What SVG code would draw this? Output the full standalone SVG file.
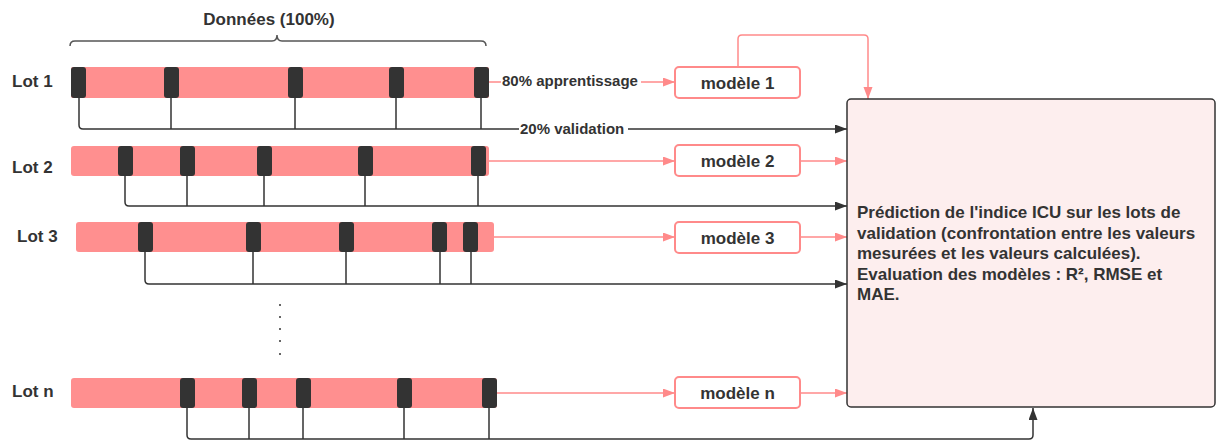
<svg xmlns="http://www.w3.org/2000/svg" width="1217" height="441" viewBox="0 0 1217 441">
<style>
text{font-family:"Liberation Sans",Arial,sans-serif;font-weight:bold;fill:#333}
.lbl{font-size:17px}
.small{font-size:15px}
.bar{fill:#ff8f8f}
.blk{fill:#333}
.val{fill:none;stroke:#333;stroke-width:1.5}
.pk{fill:none;stroke:#ff8a8a;stroke-width:1.5}
.model{fill:#fff;stroke:#ff8a8a;stroke-width:2}
</style>
<defs>
<marker id="ab" markerUnits="userSpaceOnUse" markerWidth="13" markerHeight="10" refX="12" refY="4.5" orient="auto"><path d="M0,0 L12,4.5 L0,9 z" fill="#333"/></marker>
<marker id="ap" markerUnits="userSpaceOnUse" markerWidth="13" markerHeight="10" refX="12" refY="4.5" orient="auto"><path d="M0,0 L12,4.5 L0,9 z" fill="#ff8a8a"/></marker>
</defs>
<rect width="1217" height="441" fill="#fff"/>

<g id="brace">
<path d="M70,46 Q70,41 75,41 H272 Q277,41 277,35 Q277,41 282,41 H481 Q486,41 486,46" fill="none" stroke="#555" stroke-width="1.5"/>
<text class="lbl" x="269" y="25" text-anchor="middle">Données (100%)</text>
</g>

<g id="connectors">
<!-- validation lines -->
<path class="val" d="M79,98 V125 Q79,129 83,129 H847" marker-end="url(#ab)"/>
<path class="val" d="M171,98 V129 M295,98 V129 M396,98 V129 M481,98 V129"/>
<path class="val" d="M125,176 V202 Q125,206 129,206 H847" marker-end="url(#ab)"/>
<path class="val" d="M187,176 V206 M264,176 V206 M365,176 V206 M478,176 V206"/>
<path class="val" d="M145,252 V280 Q145,284 149,284 H847" marker-end="url(#ab)"/>
<path class="val" d="M253,252 V284 M346,252 V284 M440,252 V284 M471,252 V284"/>
<path class="val" d="M187,408 V435 Q187,439 191,439 H1029 Q1033,439 1033,435 V408" marker-end="url(#ab)"/>
<path class="val" d="M249,408 V439 M303,408 V439 M404,408 V439 M489,408 V439"/>
<!-- training lines -->
<path class="pk" d="M489,82 H675" marker-end="url(#ap)"/>
<path class="pk" d="M489,161 H675" marker-end="url(#ap)"/>
<path class="pk" d="M494,237 H675" marker-end="url(#ap)"/>
<path class="pk" d="M497,393 H675" marker-end="url(#ap)"/>
<path class="pk" d="M738,67 V39 Q738,35 742,35 H864 Q868,35 868,39 V99" marker-end="url(#ap)"/>
<path class="pk" d="M800,161 H847" marker-end="url(#ap)"/>
<path class="pk" d="M800,237 H847" marker-end="url(#ap)"/>
<path class="pk" d="M800,393 H847" marker-end="url(#ap)"/>
<rect x="501" y="72" width="140" height="18" fill="#fff"/>
<text class="small" x="502" y="86">80% apprentissage</text>
<rect x="519" y="120" width="109" height="18" fill="#fff"/>
<text class="small" x="520" y="134">20% validation</text>
</g>

<g id="lot1">
<text class="lbl" x="12" y="87">Lot 1</text>
<rect class="bar" x="71" y="67" width="418" height="31" rx="2"/>
<rect class="blk" x="71" y="67" width="15" height="31" rx="3"/>
<rect class="blk" x="164" y="67" width="15" height="31" rx="3"/>
<rect class="blk" x="288" y="67" width="15" height="31" rx="3"/>
<rect class="blk" x="389" y="67" width="15" height="31" rx="3"/>
<rect class="blk" x="474" y="67" width="15" height="31" rx="3"/>
</g>

<g id="lot2">
<text class="lbl" x="12" y="173">Lot 2</text>
<rect class="bar" x="71" y="146" width="418" height="30" rx="3"/>
<rect class="blk" x="118" y="146" width="15" height="30" rx="3"/>
<rect class="blk" x="180" y="146" width="15" height="30" rx="3"/>
<rect class="blk" x="257" y="146" width="15" height="30" rx="3"/>
<rect class="blk" x="358" y="146" width="15" height="30" rx="3"/>
<rect class="blk" x="471" y="146" width="15" height="30" rx="3"/>
</g>

<g id="lot3">
<text class="lbl" x="17" y="242">Lot 3</text>
<rect class="bar" x="76" y="222" width="418" height="30" rx="3"/>
<rect class="blk" x="138" y="222" width="15" height="30" rx="3"/>
<rect class="blk" x="246" y="222" width="15" height="30" rx="3"/>
<rect class="blk" x="339" y="222" width="15" height="30" rx="3"/>
<rect class="blk" x="432" y="222" width="15" height="30" rx="3"/>
<rect class="blk" x="463" y="222" width="15" height="30" rx="3"/>
</g>

<g id="dots" fill="#333">
<circle cx="280" cy="305" r="1"/>
<circle cx="280" cy="317" r="1"/>
<circle cx="280" cy="329" r="1"/>
<circle cx="280" cy="341" r="1"/>
<circle cx="280" cy="354" r="1"/>
</g>

<g id="lotn">
<text class="lbl" x="12" y="397">Lot n</text>
<rect class="bar" x="71" y="378" width="426" height="30" rx="3"/>
<rect class="blk" x="180" y="378" width="15" height="30" rx="3"/>
<rect class="blk" x="242" y="378" width="15" height="30" rx="3"/>
<rect class="blk" x="296" y="378" width="15" height="30" rx="3"/>
<rect class="blk" x="397" y="378" width="15" height="30" rx="3"/>
<rect class="blk" x="482" y="378" width="15" height="30" rx="3"/>
</g>

<g id="model1">
<rect class="model" x="675" y="67" width="125" height="31" rx="4"/>
<text class="lbl" x="737.5" y="89" text-anchor="middle">modèle 1</text>
</g>
<g id="model2">
<rect class="model" x="675" y="145" width="125" height="31" rx="4"/>
<text class="lbl" x="737.5" y="167" text-anchor="middle">modèle 2</text>
</g>
<g id="model3">
<rect class="model" x="675" y="222" width="125" height="31" rx="4"/>
<text class="lbl" x="737.5" y="244" text-anchor="middle">modèle 3</text>
</g>
<g id="modeln">
<rect class="model" x="675" y="377" width="125" height="31" rx="4"/>
<text class="lbl" x="737.5" y="399" text-anchor="middle">modèle n</text>
</g>

<g id="result">
<rect x="847" y="99" width="368" height="308" rx="4" fill="#fdeeee" stroke="#333" stroke-width="1.5"/>
<text class="lbl" x="857">
<tspan x="857" y="218">Prédiction de l'indice ICU sur les lots de</tspan>
<tspan x="857" y="239">validation (confrontation entre les valeurs</tspan>
<tspan x="857" y="259">mesurées et les valeurs calculées).</tspan>
<tspan x="857" y="280">Evaluation des modèles : R², RMSE et</tspan>
<tspan x="857" y="300">MAE.</tspan>
</text>
</g>
</svg>
